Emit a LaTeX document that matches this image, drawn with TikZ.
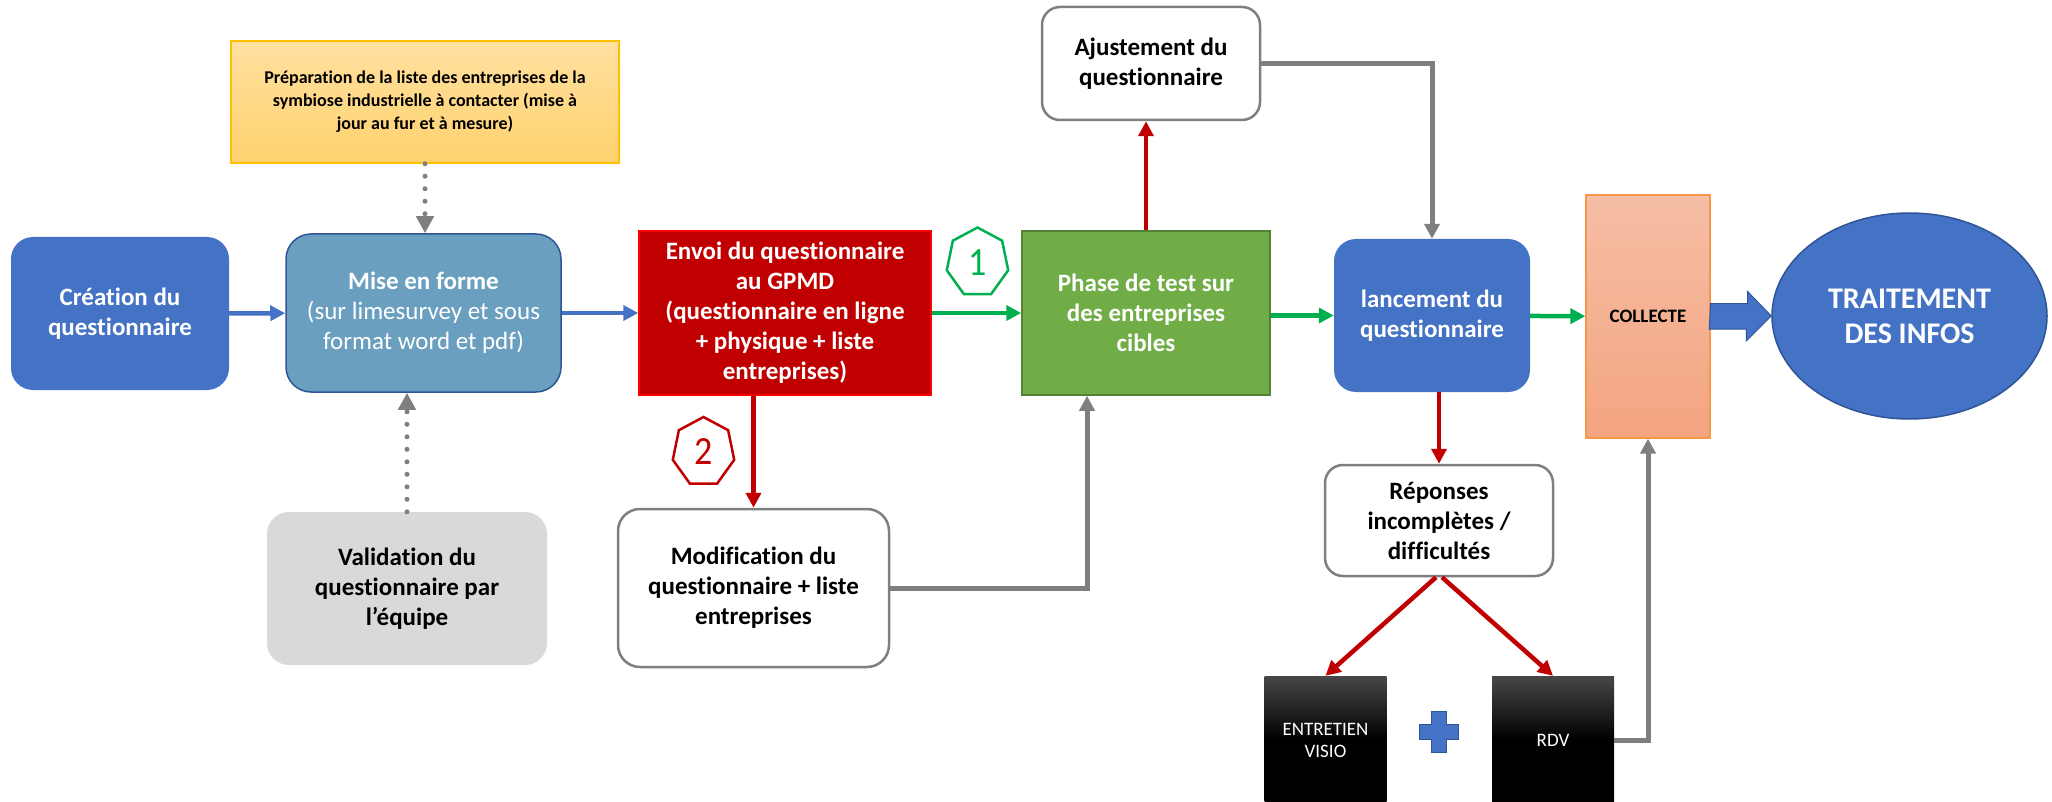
\documentclass[tikz,border=0pt]{standalone}
\usepackage{fontspec}
\setmainfont{Carlito}[Ligatures=NoCommon]
\usetikzlibrary{arrows.meta}
\usetikzlibrary{shapes.geometric}
\definecolor{bleu}{RGB}{68,114,196}
\definecolor{bleufonce}{RGB}{47,85,151}
\definecolor{bleugris}{RGB}{106,159,192}
\definecolor{rouge}{RGB}{192,0,0}
\definecolor{vert}{RGB}{0,176,80}
\definecolor{vertclair}{RGB}{112,173,71}
\definecolor{vertfonce}{RGB}{84,130,53}
\definecolor{gris}{RGB}{127,127,127}
\definecolor{grisclair}{RGB}{217,217,217}
\definecolor{jaunehaut}{RGB}{255,224,160}
\definecolor{jaunebas}{RGB}{255,210,110}
\definecolor{jaunebord}{RGB}{255,192,0}
\definecolor{saumonhaut}{RGB}{245,190,166}
\definecolor{saumonbas}{RGB}{244,164,127}
\definecolor{saumonbord}{RGB}{247,150,70}

\begin{document}
\begin{tikzpicture}[x=1pt,y=-1pt,>={Triangle[length=15pt,width=15pt]},
    boite/.style={inner sep=0pt,align=center,font=\fontsize{25}{30}\selectfont\bfseries},
    blanche/.style={boite,draw=gris,line width=2.5pt,fill=white,rounded corners=18pt},
    noire/.style={inner sep=0pt,align=center,text=white,font=\fontsize{19}{22}\selectfont,
      minimum width=122pt,minimum height=128pt,top color=black!72,bottom color=black,middle color=black},
    hepta/.style={draw,regular polygon,regular polygon sides=7,minimum size=70pt,inner sep=0pt,
      line width=2.5pt,font=\fontsize{40}{40}\selectfont,xscale=0.9,transform shape},
    fleche/.style={line width=4.5pt,->},
    trait/.style={gris,line width=5pt,->},
    pointille/.style={gris,line width=5pt,line cap=round,dash pattern=on 0pt off 12.5pt,
      -{Triangle[length=17pt,width=17pt]}}]
  \useasboundingbox (0,0) rectangle (2052,802);

  % boites
  \node[boite,fill=bleu,text=white,rounded corners=22pt,minimum width=218pt,minimum height=153pt]
    (creation) at (120,313.5) {Création du\\questionnaire};
  \node[boite,fill=bleugris,draw=bleufonce,line width=1.5pt,text=white,rounded corners=25pt,
    minimum width=275pt,minimum height=158pt]
    (miseforme) at (423.5,313) {Mise en forme\\{\mdseries (sur limesurvey et sous}\\{\mdseries format word et pdf)}};
  \node[boite,font=\fontsize{18}{23}\selectfont\bfseries,top color=jaunehaut,bottom color=jaunebas,
    draw=jaunebord,line width=1.5pt,minimum width=388pt,minimum height=122pt]
    (prep) at (425,102) {Préparation de la liste des entreprises de la\\symbiose industrielle à contacter (mise à\\jour au fur et à mesure)};
  \node[boite,fill=grisclair,rounded corners=22pt,minimum width=280pt,minimum height=153pt]
    (validation) at (407,588.5) {Validation du\\questionnaire par\\l’équipe};
  \node[boite,fill=rouge,draw=red,line width=1.5pt,text=white,minimum width=292pt,minimum height=164pt]
    (envoi) at (785,313) {Envoi du questionnaire\\au GPMD\\(questionnaire en ligne\\+ physique + liste\\entreprises)};
  \node[boite,fill=vertclair,draw=vertfonce,line width=1.5pt,text=white,minimum width=248pt,minimum height=164pt]
    (phase) at (1146,313) {Phase de test sur\\des entreprises\\cibles};
  \node[blanche,minimum width=218pt,minimum height=113pt]
    (ajust) at (1151,63.5) {Ajustement du\\questionnaire};
  \node[blanche,rounded corners=22pt,minimum width=271pt,minimum height=158pt]
    (modif) at (753.5,588) {Modification du\\questionnaire + liste\\entreprises};
  \node[boite,fill=bleu,text=white,rounded corners=22pt,minimum width=196pt,minimum height=153pt]
    (lancement) at (1432,315.5) {lancement du\\questionnaire};
  \node[boite,font=\fontsize{19}{22}\selectfont\bfseries,top color=saumonhaut,bottom color=saumonbas,
    draw=saumonbord,line width=1.2pt,minimum width=124pt,minimum height=243pt]
    (collecte) at (1648,316.5) {COLLECTE};
  \node[boite,ellipse,fill=bleu,draw=bleufonce,line width=1.5pt,text=white,
    font=\fontsize{30}{35}\selectfont\bfseries,minimum width=275pt,minimum height=206pt]
    (traitement) at (1909.5,316) {TRAITEMENT\\DES INFOS};
  \node[blanche,minimum width=228pt,minimum height=111pt]
    (reponses) at (1439,520.5) {Réponses\\incomplètes /\\difficultés};
  \node[noire] (entretien) at (1325.5,740) {ENTRETIEN\\VISIO};
  \node[noire] (rdv) at (1553,740) {RDV};
  \node[hepta,vert] (un) at (977.5,262.5) {1};
  \node[hepta,rouge] (deux) at (703.5,452) {2};

  % signe plus
  \draw[bleufonce,fill=bleu,line width=1pt] (1431,711) -- ++(15,0) -- ++(0,13) -- ++(12,0) -- ++(0,15)
    -- ++(-12,0) -- ++(0,13) -- ++(-15,0) -- ++(0,-13) -- ++(-12,0) -- ++(0,-15) -- ++(12,0) -- cycle;

  % fleches
  \draw[fleche,bleu] (creation) -- (miseforme);
  \draw[fleche,bleu] (miseforme) -- (envoi);
  \draw[pointille] (prep.south) -- (prep.south |- miseforme.north);
  \draw[pointille] (validation.north) -- (validation.north |- miseforme.south);
  \draw[fleche,vert] (envoi) -- (phase);
  \draw[fleche,rouge] (modif.north |- envoi.south) -- (modif.north);
  \draw[trait] (modif.east) -| ([xshift=-59pt]phase.south);
  \draw[fleche,rouge] (phase.north) -- (phase.north |- ajust.south);
  \draw[trait] (ajust.east) -| (lancement.north);
  \draw[fleche,vert] (phase.east |- lancement) -- (lancement);
  \draw[fleche,vert] (lancement) -- (collecte);
  \draw[bleufonce,fill=bleu,line width=1pt] (collecte.east) ++(0,-13) -- ++(37,0) -- ++(0,-12)
    -- (traitement.west) -- ++(-25,25) -- ++(0,-12) -- ++(-37,0) -- cycle;
  \draw[fleche,rouge] (reponses.north |- lancement.south) -- (reponses.north);
  \draw[fleche,rouge] ([xshift=-3pt]reponses.south) -- (entretien.north);
  \draw[fleche,rouge] ([xshift=3pt]reponses.south) -- (rdv.north);
  \draw[trait] (rdv.east) -| (collecte.south);
\end{tikzpicture}
\end{document}
